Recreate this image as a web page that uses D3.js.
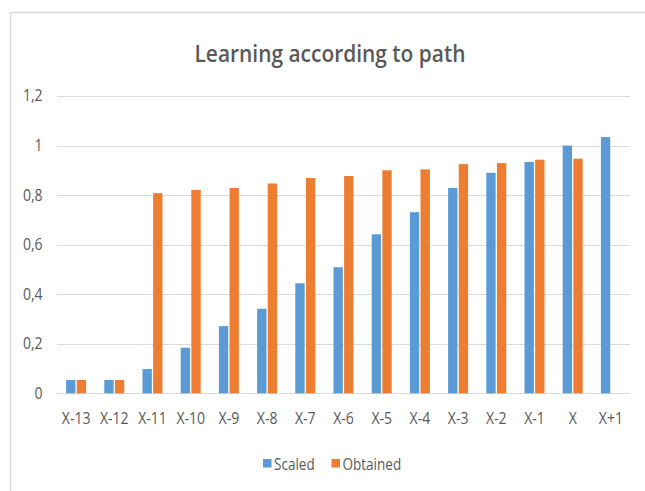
<!DOCTYPE html>
<html>
<head>
<meta charset="utf-8">
<script src="https://cdn.jsdelivr.net/npm/d3@7"></script>
<style>
  html, body { margin: 0; padding: 0; background: #ffffff; }
  svg { display: block; }
</style>
</head>
<body>
<div id="chart"></div>
<script>
// Learning according to path: scaled vs obtained values per step
const categories = ["X-13", "X-12", "X-11", "X-10", "X-9", "X-8", "X-7", "X-6", "X-5", "X-4", "X-3", "X-2", "X-1", "X", "X+1"];
const seriesNames = ["Scaled", "Obtained"];
const scaledValues = [0.054, 0.054, 0.098, 0.184, 0.271, 0.341, 0.444, 0.509, 0.642, 0.731, 0.829, 0.890, 0.934, 1.0, 1.034];
const obtainedValues = [0.054, 0.054, 0.808, 0.821, 0.829, 0.847, 0.869, 0.877, 0.900, 0.904, 0.925, 0.929, 0.943, 0.947, null];
const yTicks = [0, 0.2, 0.4, 0.6, 0.8, 1, 1.2];
const titleText = "Learning according to path";

const colors = { "Scaled": "#5b9bd5", "Obtained": "#ed7d31" };
const W = 645, H = 491;
const margin = { left: 57, right: 15, top: 96, bottom: 97.7 };
const condense = 0.85;   // horizontal squeeze for a narrow-looking label face
const labelSize = "16.5px";

const rows = categories.map((c, i) => ({
  category: c,
  values: [
    { series: "Scaled", value: scaledValues[i] },
    { series: "Obtained", value: obtainedValues[i] }
  ]
}));

const svg = d3.select("#chart").append("svg")
  .attr("width", W).attr("height", H)
  .style("font-family", "'Open Sans', 'DejaVu Sans', sans-serif");

svg.append("rect").attr("width", W).attr("height", H).attr("fill", "#ffffff");

// chart area frame (runs off the right and bottom edges)
svg.append("rect")
  .attr("x", 10.5).attr("y", 12.5)
  .attr("width", 700).attr("height", 600)
  .attr("fill", "none").attr("stroke", "#d9d9d9").attr("stroke-width", 1.5);

const x0 = d3.scaleBand().domain(categories).range([margin.left, W - margin.right]).paddingInner(0).paddingOuter(0);
const pairWidth = 20;
const x1 = d3.scaleBand().domain(seriesNames).range([0, pairWidth]).paddingInner(0.12);
const y = d3.scaleLinear().domain([0, 1.2]).range([H - margin.bottom, margin.top]);

const locale = d3.formatLocale({ decimal: ",", thousands: ".", grouping: [3], currency: ["", ""] });
const fmt = v => locale.format("~g")(v);

// gridlines
svg.append("g")
  .selectAll("line")
  .data(yTicks)
  .join("line")
  .attr("x1", margin.left).attr("x2", W - margin.right)
  .attr("y1", d => Math.round(y(d)) + 0.5).attr("y2", d => Math.round(y(d)) + 0.5)
  .attr("stroke", "#d9d9d9").attr("stroke-width", 1.2);

// y axis labels
const yAxis = svg.append("g")
  .attr("transform", `translate(${margin.left},0)`)
  .call(d3.axisLeft(y).tickValues(yTicks).tickFormat(fmt).tickSize(0).tickPadding(17));
yAxis.select(".domain").remove();
yAxis.selectAll("text")
  .attr("fill", "#595959")
  .style("font-size", labelSize)
  .style("font-family", "'Open Sans', sans-serif")
  .attr("dy", "0.3em")
  .attr("transform", `scale(${condense},1)`);

// bars
const groups = svg.append("g")
  .selectAll("g")
  .data(rows)
  .join("g")
  .attr("transform", d => `translate(${x0(d.category) + x0.bandwidth() / 2 - pairWidth / 2},0)`);

groups.selectAll("rect")
  .data(d => d.values.filter(v => v.value != null))
  .join("rect")
  .attr("x", d => x1(d.series))
  .attr("width", x1.bandwidth())
  .attr("y", d => y(d.value))
  .attr("height", d => y(0) - y(d.value))
  .attr("fill", d => colors[d.series]);

// x axis labels
const xAxis = svg.append("g")
  .attr("transform", `translate(0,${y(0)})`)
  .call(d3.axisBottom(x0).tickSize(0).tickPadding(19));
xAxis.select(".domain").remove();
xAxis.selectAll("text")
  .attr("fill", "#595959")
  .style("font-size", labelSize)
  .style("font-family", "'Open Sans', sans-serif")
  .attr("transform", `scale(${condense},1)`);

// title
svg.append("text")
  .attr("x", 330).attr("y", 62)
  .attr("text-anchor", "middle")
  .attr("fill", "#595959")
  .style("font-size", "24px")
  .style("font-weight", "600")
  .attr("textLength", 271)
  .attr("lengthAdjust", "spacingAndGlyphs")
  .text(titleText);

// legend
const legendItems = [
  { name: "Scaled", sx: 263, tx: 274 },
  { name: "Obtained", sx: 331.5, tx: 342.5 }
];
const legend = svg.append("g");
legend.selectAll("rect")
  .data(legendItems)
  .join("rect")
  .attr("x", d => d.sx).attr("y", 459)
  .attr("width", 8.5).attr("height", 8.5)
  .attr("fill", d => colors[d.name]);
legend.selectAll("text")
  .data(legendItems)
  .join("text")
  .attr("x", d => d.tx).attr("y", 470.5)
  .attr("fill", "#595959")
  .style("font-size", labelSize)
  .attr("transform", d => `translate(${d.tx * (1 - 0.82)},0) scale(0.82,1)`)
  .text(d => d.name);
</script>
</body>
</html>
